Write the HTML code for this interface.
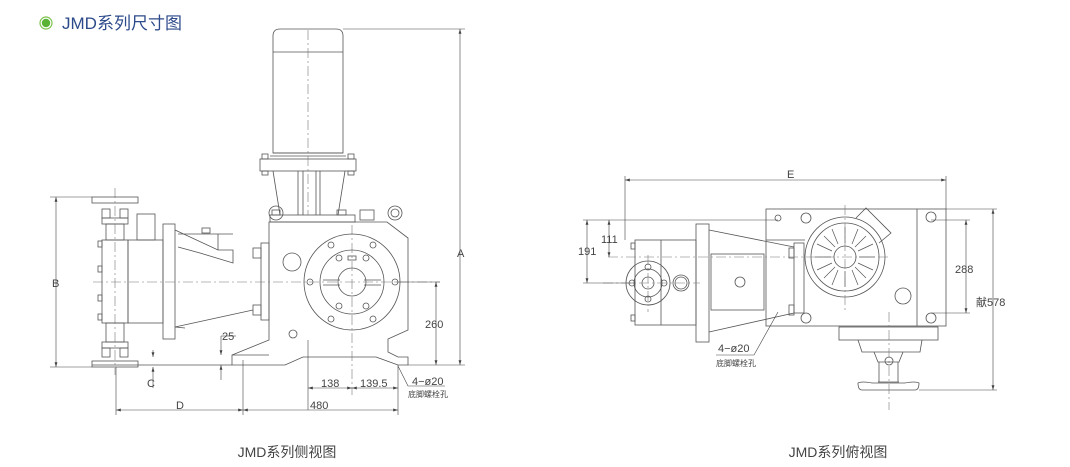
<!DOCTYPE html>
<html><head><meta charset="utf-8"><style>
html,body{margin:0;padding:0;background:#fff;width:1070px;height:467px;overflow:hidden}
svg{position:absolute;left:0;top:0}
text{font-family:"Liberation Sans","Noto Sans CJK SC",sans-serif}
</style></head><body>
<svg width="1070" height="467" viewBox="0 0 1070 467">
<defs>
<marker id="ar" viewBox="0 0 10 6" refX="10" refY="3" markerWidth="8" markerHeight="5" orient="auto-start-reverse"><path d="M0,0L10,3L0,6z" fill="#444"/></marker>
</defs>
<!-- title -->
<circle cx="46" cy="23" r="6" fill="#fff" stroke="#7cc24a" stroke-width="1.2"/>
<circle cx="46" cy="23" r="4.2" fill="#5bb336"/>
<text x="62" y="29" font-size="17" fill="#2d4a8a">JMD系列尺寸图</text>
<text x="287" y="457" font-size="14" fill="#444" text-anchor="middle">JMD系列侧视图</text>
<text x="838" y="457" font-size="14" fill="#444" text-anchor="middle">JMD系列俯视图</text>

<g fill="none" stroke="#555" stroke-width="0.8">
<!-- LEFT: motor -->
<path d="M273,153 V36 Q273,29 280,29 H336 Q343,29 343,36 V153 Z"/>
<line x1="273" y1="52" x2="343" y2="52"/>
<rect x="260" y="159" width="96" height="12"/>
<line x1="273" y1="153" x2="343" y2="153"/><line x1="270" y1="156" x2="346" y2="156"/>
<rect x="262" y="154" width="6" height="5"/><rect x="348" y="154" width="6" height="5"/>
<rect x="262" y="171" width="6" height="4"/><rect x="348" y="171" width="6" height="4"/>
<path d="M273,171 L280,215 M345,171 L338,215 M298,171 V215 M303,171 V215 M316,171 V215 M320,171 V215"/>
<rect x="270" y="215" width="85" height="7"/>
<circle cx="276" cy="213" r="7"/><rect x="272" y="210" width="8" height="5"/>
<rect x="337" y="210" width="9" height="5"/>
<rect x="360" y="210" width="14" height="10"/>
<circle cx="395" cy="213" r="7"/><circle cx="395" cy="213" r="4"/>
<!-- housing -->
<path d="M269,222 H387 L408,238 V330 L388,339 V352 L398,357 H408 V365 H398 L376,357 H303 L285,365 H232 V355 L269,340 Z"/>
<line x1="232" y1="355" x2="269" y2="355"/>
<circle cx="352" cy="282" r="48"/>
<circle cx="352" cy="282" r="32"/>
<circle cx="352" cy="282" r="14"/>
<circle cx="292" cy="262" r="9"/>
<circle cx="293" cy="334" r="4"/>
<g stroke-width="0.8">
<circle cx="331" cy="245" r="3"/><circle cx="373" cy="245" r="3"/><circle cx="331" cy="319" r="3"/><circle cx="373" cy="319" r="3"/>
<circle cx="339" cy="258" r="3"/><circle cx="366" cy="258" r="3"/><circle cx="339" cy="306" r="3"/><circle cx="366" cy="306" r="3"/>
<circle cx="310" cy="282" r="3"/><circle cx="395" cy="282" r="3"/>
</g>
<rect x="348" y="256" width="8" height="4"/>
<path d="M323,280 H340 M323,285 H340 M364,280 H381 M364,285 H381"/>
<!-- pump head / cone -->
<rect x="261" y="243" width="8" height="77"/>
<rect x="253" y="248" width="8" height="10"/><rect x="253" y="305" width="8" height="10"/>
<path d="M175,230 L218,250 H233 V263 L200,253 L178,247 M175,327 L253,310 M175,327 L185,328"/>
<path d="M178,234 H233 M218,234 V250"/>
<rect x="202" y="228" width="8" height="5"/>
<rect x="163" y="224" width="12" height="115"/>
<rect x="128" y="240" width="35" height="83"/>
<rect x="102" y="240" width="26" height="83"/>
<rect x="137" y="214" width="18" height="26"/>
<rect x="98" y="241" width="4" height="6"/><rect x="98" y="266" width="4" height="6"/><rect x="98" y="295" width="4" height="6"/><rect x="98" y="314" width="4" height="6"/>
<!-- valves -->
<rect x="92" y="197" width="46" height="6"/>
<rect x="102" y="209" width="8" height="9"/><rect x="120" y="209" width="8" height="9"/>
<rect x="102" y="218" width="26" height="6"/><rect x="106" y="224" width="18" height="16"/>
<rect x="92" y="361" width="46" height="6"/>
<rect x="102" y="348" width="8" height="9"/><rect x="120" y="348" width="8" height="9"/>
<rect x="102" y="342" width="26" height="6"/><rect x="106" y="323" width="18" height="19"/>
<path d="M92,365 H136 M136,365 H232"/>
</g>
<!-- center lines -->
<g stroke="#777" stroke-width="0.6" stroke-dasharray="10,3,2,3" fill="none">
<line x1="93" y1="282" x2="440" y2="282"/>
<line x1="115" y1="188" x2="115" y2="375"/>
<line x1="352" y1="225" x2="352" y2="395"/>
<line x1="308" y1="30" x2="308" y2="215"/>
</g>
<!-- left dimensions -->
<g stroke="#444" stroke-width="0.6" fill="none">
<line x1="50" y1="197" x2="92" y2="197"/><line x1="50" y1="367" x2="92" y2="367"/>
<line x1="56" y1="197" x2="56" y2="367" marker-start="url(#ar)" marker-end="url(#ar)"/>
<line x1="343" y1="29" x2="465" y2="29"/><line x1="408" y1="365" x2="465" y2="365"/>
<line x1="460" y1="29" x2="460" y2="365" marker-start="url(#ar)" marker-end="url(#ar)"/>
<line x1="396" y1="282" x2="440" y2="282"/>
<line x1="436" y1="282" x2="436" y2="365" marker-start="url(#ar)" marker-end="url(#ar)"/>
<line x1="153" y1="350" x2="153" y2="357" marker-end="url(#ar)"/>
<line x1="153" y1="388" x2="153" y2="367" marker-end="url(#ar)"/>
<line x1="221" y1="336" x2="221" y2="355" marker-end="url(#ar)"/>
<line x1="221" y1="380" x2="221" y2="365" marker-end="url(#ar)"/>
<line x1="221" y1="336" x2="236" y2="336"/>
<line x1="308" y1="340" x2="308" y2="410"/><line x1="398" y1="365" x2="398" y2="415"/>
<line x1="116" y1="367" x2="116" y2="415"/><line x1="243" y1="360" x2="243" y2="415"/>
<line x1="308" y1="388" x2="352" y2="388" marker-start="url(#ar)" marker-end="url(#ar)"/>
<line x1="352" y1="388" x2="398" y2="388" marker-start="url(#ar)" marker-end="url(#ar)"/>
<line x1="116" y1="410" x2="243" y2="410" marker-start="url(#ar)" marker-end="url(#ar)"/>
<line x1="243" y1="410" x2="398" y2="410" marker-start="url(#ar)" marker-end="url(#ar)"/>
<path d="M398,366 L408,386 H445"/>
</g>
<g font-size="11" fill="#444">
<text x="52" y="287">B</text><text x="457" y="257">A</text>
<text x="425" y="328">260</text><text x="147" y="387">C</text>
<text x="222" y="340">25</text>
<text x="321" y="387">138</text><text x="360" y="387">139.5</text>
<text x="176" y="409">D</text><text x="310" y="409">480</text>
<text x="412" y="385">4−ø20</text>
<text x="408" y="397" font-size="8">底脚螺栓孔</text>
</g>

<!-- RIGHT -->
<g fill="none" stroke="#555" stroke-width="0.8">
<rect x="766" y="209" width="180" height="117"/>
<line x1="917" y1="209" x2="917" y2="326"/>
<line x1="766" y1="240" x2="805" y2="240"/>
<circle cx="845" cy="257" r="40"/><circle cx="845" cy="257" r="34"/><circle cx="845" cy="257" r="11"/>
<path d="M856,218 L866,208 L891,233 L879,243"/>
<g stroke-width="0.7">
<path d="M845,227 V243 M845,271 V287 M815,257 H831 M859,257 H875 M824,236 L835,247 M866,236 L855,247 M824,278 L835,267 M866,278 L855,267 M832,229 L838,244 M858,229 L852,244 M832,285 L838,270 M858,285 L852,270 M817,244 L832,251 M873,244 L858,251 M817,270 L832,263 M873,270 L858,263"/>
</g>
<circle cx="778" cy="218" r="3"/>
<circle cx="806" cy="218" r="5"/><circle cx="931" cy="217" r="5"/><circle cx="806" cy="318" r="5"/><circle cx="931" cy="318" r="5"/>
<circle cx="903" cy="296" r="8"/>
<rect x="794" y="243" width="10" height="70"/>
<rect x="789" y="248" width="5" height="10"/><rect x="789" y="305" width="5" height="10"/>
<path d="M709,230 L794,247 M709,332 L794,313"/>
<rect x="711" y="254" width="53" height="56"/>
<circle cx="740" cy="282" r="5"/>
<rect x="696" y="224" width="13" height="118"/>
<rect x="635" y="240" width="61" height="85"/>
<line x1="661" y1="240" x2="661" y2="325"/>
<circle cx="648" cy="283" r="22"/><circle cx="648" cy="283" r="14"/><circle cx="648" cy="283" r="6"/>
<circle cx="648" cy="267" r="3"/><circle cx="648" cy="299" r="3"/><circle cx="632" cy="283" r="3"/><circle cx="664" cy="283" r="3"/>
<circle cx="681" cy="283" r="8"/><circle cx="681" cy="283" r="6"/>
<rect x="631" y="243" width="4" height="6"/><rect x="631" y="315" width="4" height="6"/>
<rect x="839" y="327" width="99" height="13"/>
<path d="M858,340 L862,352 H920 L922,340 M874,352 L878,362 H899 L903,352 M879,362 V382 M898,362 V382 M878,382 H899"/>
<path d="M858,383 Q862,381 872,383 H905 Q915,381 919,383 Q919,390 915,390 H862 Q858,390 858,383Z"/>
<circle cx="889" cy="361" r="4"/>
</g>
<g stroke="#777" stroke-width="0.6" stroke-dasharray="10,3,2,3" fill="none">
<line x1="603" y1="283" x2="700" y2="283"/>
<line x1="608" y1="257" x2="890" y2="257"/>
<line x1="845" y1="205" x2="845" y2="310"/>
<line x1="889" y1="312" x2="889" y2="410"/>
<line x1="648" y1="255" x2="648" y2="312"/>
</g>
<g stroke="#444" stroke-width="0.6" fill="none">
<line x1="625" y1="180" x2="946" y2="180" marker-start="url(#ar)" marker-end="url(#ar)"/>
<line x1="625" y1="176" x2="625" y2="240"/><line x1="946" y1="176" x2="946" y2="209"/>
<line x1="583" y1="220" x2="778" y2="220"/><line x1="583" y1="283" x2="635" y2="283"/>
<line x1="587" y1="220" x2="587" y2="283" marker-start="url(#ar)" marker-end="url(#ar)"/>
<line x1="609" y1="220" x2="609" y2="257" marker-start="url(#ar)" marker-end="url(#ar)"/>
<line x1="931" y1="220" x2="970" y2="220"/><line x1="931" y1="313" x2="970" y2="313"/>
<line x1="966" y1="220" x2="966" y2="313" marker-start="url(#ar)" marker-end="url(#ar)"/>
<line x1="946" y1="209" x2="997" y2="209"/><line x1="919" y1="390" x2="997" y2="390"/>
<line x1="993" y1="209" x2="993" y2="390" marker-start="url(#ar)" marker-end="url(#ar)"/>
<path d="M716,355 H754 L778,312"/>
</g>
<g font-size="11" fill="#444">
<text x="787" y="178">E</text>
<text x="578" y="255">191</text><text x="601" y="243">111</text>
<text x="955" y="273">288</text><text x="976" y="306">献578</text>
<text x="718" y="352">4−ø20</text>
<text x="716" y="366" font-size="8">底脚螺栓孔</text>
</g>
</svg>
</body></html>
